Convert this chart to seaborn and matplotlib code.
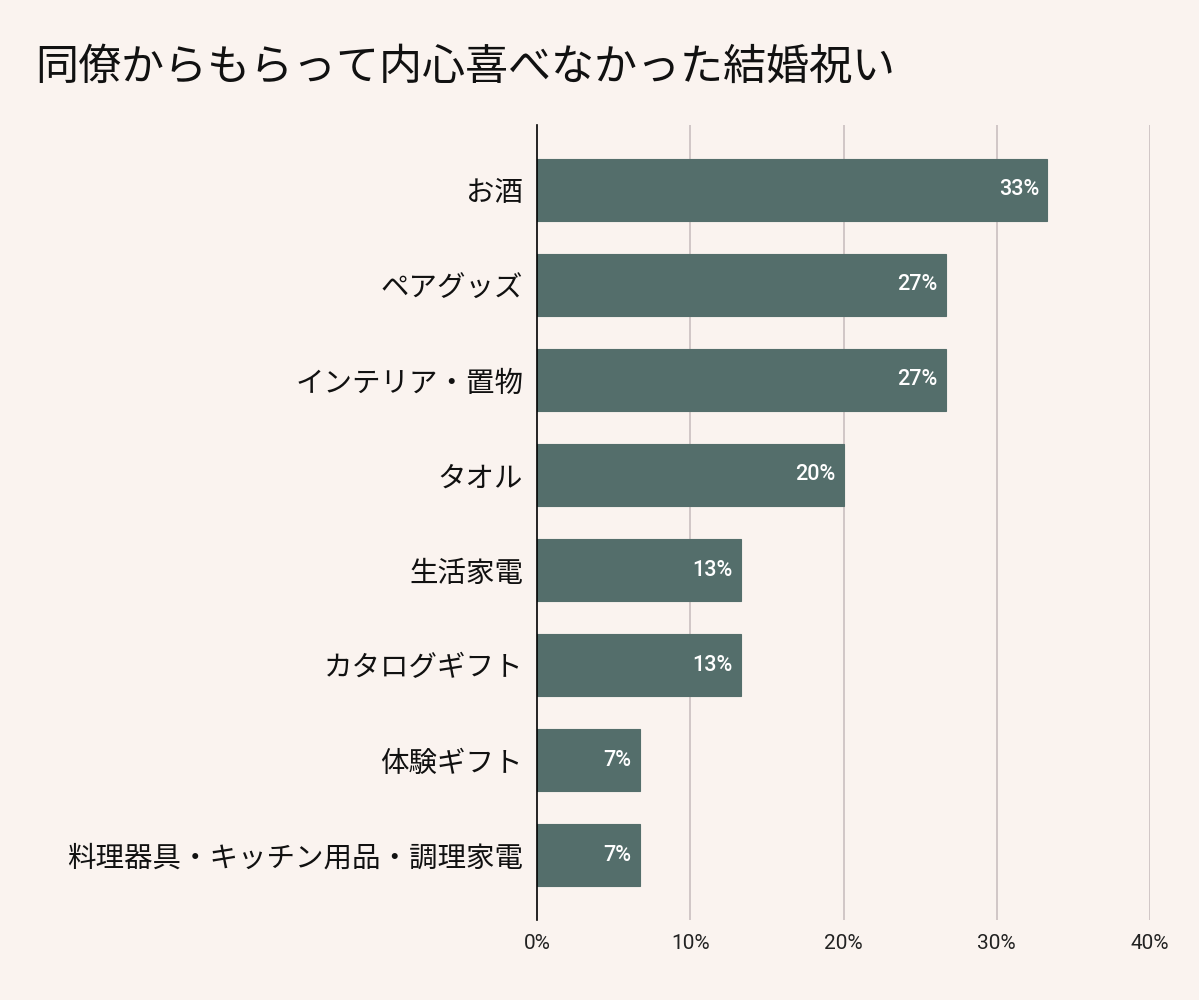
import matplotlib
matplotlib.use("Agg")
import matplotlib.pyplot as plt
import seaborn as sns
import pandas as pd

categories = ["お酒", "ペアグッズ", "インテリア・置物", "タオル", "生活家電",
              "カタログギフト", "体験ギフト", "料理器具・キッチン用品・調理家電"]
values = [33.3, 26.7, 26.7, 20.0, 13.3, 13.3, 6.7, 6.7]
value_labels = ["33%", "27%", "27%", "20%", "13%", "13%", "7%", "7%"]
x_ticks = [0, 10, 20, 30, 40]
x_tick_labels = ["0%", "10%", "20%", "30%", "40%"]
title = "同僚からもらって内心喜べなかった結婚祝い"

BG = "#FAF3EF"
BAR = "#546E6B"
GRID = "#C9BFBF"

sns.set_theme(style="white")
plt.rcParams['font.family'] = ['Noto Sans CJK JP', 'DejaVu Sans']

df = pd.DataFrame({"cat": categories, "val": values})

fig = plt.figure(figsize=(11.99, 10.0), dpi=100, facecolor=BG)
ax = fig.add_axes([537/1199, 80/1000, (1150-537)/1199, (920-125)/1000])
ax.set_facecolor(BG)

sns.barplot(data=df, x="val", y="cat", orient="h", color=BAR, width=0.65,
            saturation=1, ax=ax, edgecolor=BAR, linewidth=0.8)

ax.set_xlim(0, 40)
ax.set_ylim(len(categories) - 1 + 0.684, -0.684)
ax.set_xticks(x_ticks)
ax.set_xticklabels(x_tick_labels, fontsize=15, family=['Roboto', 'DejaVu Sans'], color="#222222")
ax.set_yticks(range(len(categories)))
ax.set_yticklabels(categories, fontsize=20.5, color="#111111")
ax.tick_params(axis='y', length=0, pad=10)
ax.tick_params(axis='x', length=0, pad=10)
ax.set_xlabel("")
ax.set_ylabel("")

for xt in x_ticks[1:]:
    ax.axvline(xt, color=GRID, lw=1.2, zorder=0)
ax.set_axisbelow(True)

for s in ["top", "right", "bottom"]:
    ax.spines[s].set_visible(False)
ax.spines["left"].set_color("#000000")
ax.spines["left"].set_linewidth(1.2)
ax.spines["left"].set_zorder(5)

for p, lab in zip(ax.patches, value_labels):
    w = p.get_width()
    y = p.get_y() + p.get_height() / 2
    ax.annotate(lab, xy=(w, y), xytext=(-6, 0), textcoords="offset points",
                ha="right", va="center", color="white", fontsize=15.5,
                fontweight="medium", family=['Roboto', 'DejaVu Sans'])

fig.text(35/1199, 1 - 68/1000, title, fontsize=31, color="#111111",
         ha="left", va="center")

fig.savefig("out.png", dpi=100, facecolor=BG)
